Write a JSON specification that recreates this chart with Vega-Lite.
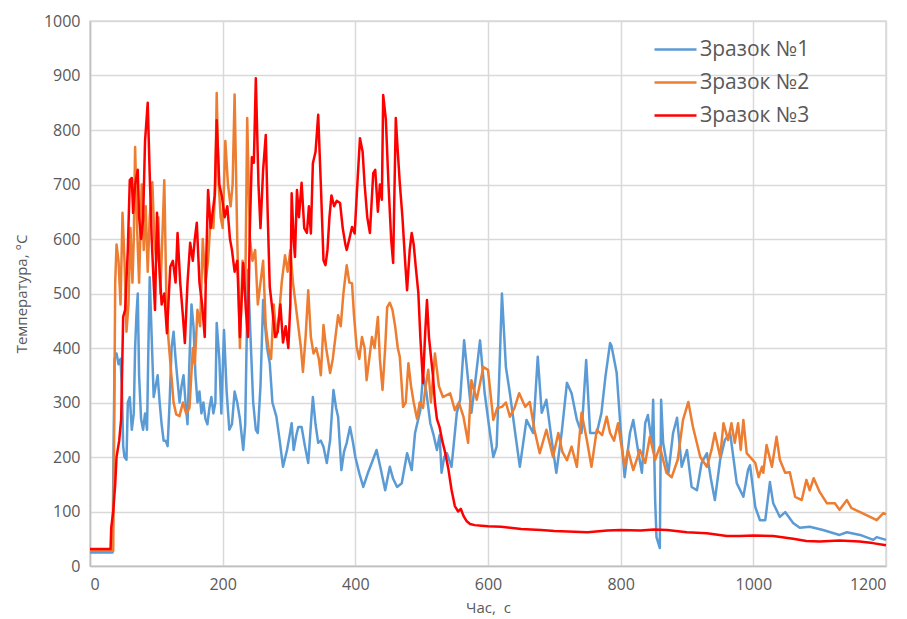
{
"$schema": "https://vega.github.io/schema/vega-lite/v6.json",
"width": 796, "height": 545,
"autosize": "none",
"padding": {"left": 90, "top": 21, "right": 21, "bottom": 53},
"background": "white",
"config": {
  "font": "Open Sans",
  "view": {"stroke": "#d9d9d9", "strokeWidth": 1.5},
  "axis": {"gridColor": "#d9d9d9", "gridWidth": 1.5, "domainColor": "#bfbfbf", "domainWidth": 1.5, "ticks": false, "labelColor": "#595959", "labelFontSize": 16, "titleColor": "#595959", "titleFontSize": 15, "titleFontWeight": "normal", "labelPadding": 10, "format": "d"}
},
"datasets": {
"s1": [{"t":0,"v":25},{"t":34,"v":25},{"t":35,"v":150},{"t":37,"v":380},{"t":40,"v":390},{"t":43,"v":370},{"t":46,"v":380},{"t":48,"v":330},{"t":50,"v":220},{"t":52,"v":200},{"t":55,"v":195},{"t":57,"v":300},{"t":60,"v":310},{"t":63,"v":250},{"t":66,"v":280},{"t":68,"v":400},{"t":70,"v":460},{"t":72,"v":500},{"t":74,"v":350},{"t":77,"v":270},{"t":80,"v":250},{"t":83,"v":280},{"t":86,"v":250},{"t":88,"v":400},{"t":90,"v":530},{"t":93,"v":420},{"t":96,"v":310},{"t":99,"v":330},{"t":102,"v":350},{"t":105,"v":300},{"t":108,"v":260},{"t":111,"v":230},{"t":114,"v":230},{"t":117,"v":220},{"t":120,"v":300},{"t":123,"v":400},{"t":126,"v":430},{"t":129,"v":380},{"t":132,"v":340},{"t":135,"v":300},{"t":138,"v":330},{"t":141,"v":350},{"t":144,"v":300},{"t":147,"v":260},{"t":150,"v":380},{"t":153,"v":480},{"t":156,"v":440},{"t":159,"v":350},{"t":162,"v":300},{"t":165,"v":320},{"t":168,"v":280},{"t":171,"v":300},{"t":174,"v":270},{"t":177,"v":260},{"t":180,"v":290},{"t":183,"v":310},{"t":186,"v":280},{"t":189,"v":300},{"t":191,"v":446},{"t":195,"v":380},{"t":198,"v":280},{"t":202,"v":433},{"t":206,"v":320},{"t":210,"v":250},{"t":214,"v":260},{"t":218,"v":320},{"t":222,"v":300},{"t":226,"v":270},{"t":231,"v":213},{"t":234,"v":260},{"t":238,"v":543},{"t":242,"v":420},{"t":246,"v":300},{"t":250,"v":250},{"t":253,"v":244},{"t":257,"v":330},{"t":261,"v":488},{"t":264,"v":440},{"t":267,"v":400},{"t":271,"v":372},{"t":275,"v":300},{"t":281,"v":274},{"t":286,"v":230},{"t":291,"v":182},{"t":297,"v":213},{"t":301,"v":240},{"t":304,"v":262},{"t":307,"v":213},{"t":311,"v":240},{"t":314,"v":255},{"t":319,"v":255},{"t":324,"v":220},{"t":329,"v":189},{"t":333,"v":260},{"t":336,"v":310},{"t":340,"v":260},{"t":344,"v":226},{"t":348,"v":230},{"t":352,"v":219},{"t":357,"v":189},{"t":362,"v":231},{"t":367,"v":323},{"t":371,"v":290},{"t":374,"v":274},{"t":379,"v":176},{"t":383,"v":210},{"t":387,"v":226},{"t":392,"v":255},{"t":396,"v":230},{"t":400,"v":200},{"t":406,"v":170},{"t":412,"v":145},{"t":419,"v":171},{"t":425,"v":190},{"t":432,"v":213},{"t":438,"v":180},{"t":445,"v":139},{"t":452,"v":182},{"t":457,"v":160},{"t":463,"v":145},{"t":470,"v":152},{"t":478,"v":207},{"t":485,"v":176},{"t":490,"v":244},{"t":498,"v":286},{"t":502,"v":350},{"t":507,"v":320},{"t":513,"v":262},{"t":518,"v":240},{"t":523,"v":213},{"t":527,"v":240},{"t":530,"v":171},{"t":534,"v":200},{"t":538,"v":207},{"t":545,"v":182},{"t":553,"v":281},{"t":558,"v":305},{"t":564,"v":414},{"t":570,"v":341},{"t":575,"v":281},{"t":580,"v":330},{"t":588,"v":414},{"t":595,"v":317},{"t":603,"v":244},{"t":608,"v":200},{"t":613,"v":219},{"t":617,"v":350},{"t":621,"v":500},{"t":627,"v":365},{"t":633,"v":317},{"t":641,"v":244},{"t":648,"v":182},{"t":658,"v":268},{"t":668,"v":244},{"t":675,"v":384},{"t":681,"v":281},{"t":688,"v":305},{"t":696,"v":231},{"t":703,"v":171},{"t":711,"v":244},{"t":719,"v":336},{"t":726,"v":317},{"t":734,"v":268},{"t":741,"v":244},{"t":748,"v":378},{"t":754,"v":244},{"t":764,"v":244},{"t":771,"v":281},{"t":777,"v":347},{"t":784,"v":409},{"t":786,"v":405},{"t":790,"v":380},{"t":794,"v":354},{"t":800,"v":250},{"t":806,"v":163},{"t":814,"v":244},{"t":819,"v":268},{"t":826,"v":213},{"t":832,"v":171},{"t":837,"v":262},{"t":841,"v":277},{"t":847,"v":226},{"t":849,"v":305},{"t":852,"v":120},{"t":854,"v":53},{"t":859,"v":33},{"t":861,"v":305},{"t":864,"v":226},{"t":872,"v":171},{"t":879,"v":244},{"t":885,"v":272},{"t":892,"v":182},{"t":900,"v":213},{"t":907,"v":145},{"t":915,"v":139},{"t":922,"v":189},{"t":930,"v":207},{"t":936,"v":160},{"t":942,"v":121},{"t":950,"v":195},{"t":957,"v":231},{"t":965,"v":244},{"t":975,"v":152},{"t":985,"v":127},{"t":992,"v":176},{"t":995,"v":185},{"t":1003,"v":108},{"t":1010,"v":84},{"t":1018,"v":84},{"t":1025,"v":154},{"t":1030,"v":115},{"t":1040,"v":90},{"t":1048,"v":99},{"t":1060,"v":79},{"t":1070,"v":70},{"t":1085,"v":72},{"t":1105,"v":66},{"t":1130,"v":57},{"t":1141,"v":62},{"t":1161,"v":57},{"t":1181,"v":48},{"t":1186,"v":53},{"t":1200,"v":48}],
"s2": [{"t":0,"v":28},{"t":35,"v":28},{"t":36,"v":180},{"t":38,"v":520},{"t":40,"v":590},{"t":43,"v":560},{"t":46,"v":480},{"t":49,"v":648},{"t":52,"v":560},{"t":55,"v":430},{"t":58,"v":480},{"t":61,"v":620},{"t":64,"v":520},{"t":66,"v":600},{"t":68,"v":769},{"t":71,"v":620},{"t":74,"v":520},{"t":78,"v":700},{"t":81,"v":580},{"t":84,"v":660},{"t":87,"v":540},{"t":90,"v":640},{"t":94,"v":704},{"t":97,"v":600},{"t":100,"v":560},{"t":103,"v":640},{"t":106,"v":500},{"t":109,"v":600},{"t":112,"v":708},{"t":115,"v":500},{"t":118,"v":420},{"t":122,"v":360},{"t":126,"v":300},{"t":130,"v":278},{"t":135,"v":275},{"t":140,"v":300},{"t":145,"v":280},{"t":150,"v":290},{"t":155,"v":400},{"t":158,"v":370},{"t":162,"v":470},{"t":166,"v":440},{"t":170,"v":600},{"t":174,"v":520},{"t":178,"v":560},{"t":182,"v":640},{"t":186,"v":620},{"t":189,"v":700},{"t":191,"v":868},{"t":194,"v":700},{"t":197,"v":640},{"t":200,"v":620},{"t":204,"v":780},{"t":208,"v":700},{"t":212,"v":660},{"t":215,"v":700},{"t":218,"v":865},{"t":222,"v":600},{"t":226,"v":400},{"t":230,"v":560},{"t":234,"v":500},{"t":237,"v":822},{"t":241,"v":600},{"t":245,"v":560},{"t":249,"v":580},{"t":253,"v":480},{"t":257,"v":520},{"t":261,"v":560},{"t":265,"v":440},{"t":269,"v":400},{"t":273,"v":380},{"t":277,"v":480},{"t":281,"v":420},{"t":285,"v":460},{"t":289,"v":520},{"t":294,"v":570},{"t":298,"v":540},{"t":302,"v":580},{"t":306,"v":520},{"t":310,"v":480},{"t":314,"v":440},{"t":318,"v":400},{"t":321,"v":356},{"t":325,"v":420},{"t":329,"v":506},{"t":333,"v":420},{"t":337,"v":390},{"t":341,"v":400},{"t":345,"v":380},{"t":348,"v":350},{"t":352,"v":442},{"t":356,"v":400},{"t":362,"v":354},{"t":366,"v":380},{"t":370,"v":420},{"t":374,"v":460},{"t":378,"v":440},{"t":382,"v":500},{"t":387,"v":552},{"t":391,"v":520},{"t":395,"v":519},{"t":398,"v":460},{"t":402,"v":402},{"t":406,"v":380},{"t":410,"v":420},{"t":414,"v":400},{"t":417,"v":341},{"t":421,"v":380},{"t":425,"v":420},{"t":429,"v":400},{"t":434,"v":457},{"t":437,"v":380},{"t":441,"v":323},{"t":445,"v":400},{"t":448,"v":475},{"t":452,"v":483},{"t":456,"v":470},{"t":460,"v":440},{"t":464,"v":400},{"t":467,"v":384},{"t":470,"v":330},{"t":472,"v":292},{"t":476,"v":300},{"t":480,"v":372},{"t":484,"v":330},{"t":488,"v":300},{"t":493,"v":270},{"t":497,"v":300},{"t":502,"v":290},{"t":506,"v":330},{"t":510,"v":360},{"t":514,"v":300},{"t":520,"v":390},{"t":526,"v":330},{"t":532,"v":310},{"t":543,"v":317},{"t":550,"v":286},{"t":556,"v":300},{"t":563,"v":274},{"t":570,"v":226},{"t":575,"v":341},{"t":583,"v":305},{"t":593,"v":365},{"t":600,"v":360},{"t":608,"v":268},{"t":614,"v":290},{"t":621,"v":292},{"t":627,"v":300},{"t":633,"v":274},{"t":640,"v":290},{"t":647,"v":317},{"t":656,"v":292},{"t":663,"v":301},{"t":670,"v":250},{"t":678,"v":207},{"t":688,"v":250},{"t":698,"v":200},{"t":706,"v":244},{"t":712,"v":210},{"t":719,"v":194},{"t":726,"v":219},{"t":734,"v":182},{"t":741,"v":281},{"t":749,"v":231},{"t":756,"v":182},{"t":764,"v":250},{"t":772,"v":240},{"t":779,"v":274},{"t":784,"v":244},{"t":790,"v":230},{"t":796,"v":262},{"t":806,"v":182},{"t":811,"v":213},{"t":819,"v":176},{"t":829,"v":213},{"t":837,"v":189},{"t":844,"v":237},{"t":852,"v":195},{"t":859,"v":219},{"t":869,"v":171},{"t":877,"v":163},{"t":886,"v":195},{"t":894,"v":268},{"t":902,"v":301},{"t":909,"v":255},{"t":920,"v":200},{"t":930,"v":182},{"t":937,"v":213},{"t":942,"v":244},{"t":950,"v":200},{"t":955,"v":262},{"t":962,"v":231},{"t":967,"v":262},{"t":972,"v":226},{"t":977,"v":262},{"t":981,"v":213},{"t":985,"v":268},{"t":990,"v":207},{"t":1003,"v":189},{"t":1008,"v":163},{"t":1013,"v":182},{"t":1015,"v":171},{"t":1020,"v":222},{"t":1028,"v":182},{"t":1035,"v":237},{"t":1040,"v":195},{"t":1048,"v":171},{"t":1055,"v":172},{"t":1063,"v":127},{"t":1073,"v":121},{"t":1080,"v":158},{"t":1085,"v":139},{"t":1091,"v":161},{"t":1100,"v":136},{"t":1111,"v":115},{"t":1123,"v":115},{"t":1130,"v":103},{"t":1141,"v":121},{"t":1148,"v":106},{"t":1161,"v":99},{"t":1176,"v":90},{"t":1186,"v":84},{"t":1196,"v":97},{"t":1200,"v":95}],
"s3": [{"t":0,"v":31},{"t":31,"v":31},{"t":32,"v":70},{"t":35,"v":100},{"t":38,"v":150},{"t":40,"v":200},{"t":44,"v":230},{"t":47,"v":270},{"t":50,"v":457},{"t":53,"v":470},{"t":57,"v":580},{"t":60,"v":708},{"t":63,"v":712},{"t":65,"v":648},{"t":68,"v":700},{"t":72,"v":727},{"t":74,"v":640},{"t":77,"v":600},{"t":80,"v":635},{"t":83,"v":780},{"t":87,"v":850},{"t":90,"v":720},{"t":93,"v":600},{"t":96,"v":520},{"t":98,"v":470},{"t":101,"v":648},{"t":104,"v":560},{"t":108,"v":480},{"t":112,"v":500},{"t":116,"v":427},{"t":121,"v":549},{"t":125,"v":560},{"t":129,"v":520},{"t":132,"v":611},{"t":136,"v":520},{"t":140,"v":460},{"t":143,"v":409},{"t":147,"v":520},{"t":151,"v":593},{"t":155,"v":560},{"t":158,"v":600},{"t":161,"v":630},{"t":165,"v":520},{"t":169,"v":480},{"t":173,"v":420},{"t":175,"v":550},{"t":178,"v":690},{"t":182,"v":620},{"t":186,"v":660},{"t":188,"v":680},{"t":191,"v":818},{"t":195,"v":700},{"t":199,"v":677},{"t":203,"v":640},{"t":207,"v":660},{"t":211,"v":600},{"t":214,"v":580},{"t":218,"v":540},{"t":222,"v":560},{"t":226,"v":420},{"t":229,"v":500},{"t":231,"v":556},{"t":235,"v":470},{"t":238,"v":420},{"t":241,"v":620},{"t":244,"v":750},{"t":247,"v":740},{"t":250,"v":895},{"t":254,"v":700},{"t":257,"v":620},{"t":261,"v":727},{"t":265,"v":791},{"t":268,"v":640},{"t":271,"v":512},{"t":275,"v":470},{"t":279,"v":420},{"t":283,"v":430},{"t":287,"v":480},{"t":291,"v":410},{"t":295,"v":440},{"t":299,"v":400},{"t":302,"v":480},{"t":304,"v":684},{"t":307,"v":600},{"t":309,"v":567},{"t":312,"v":690},{"t":315,"v":640},{"t":319,"v":703},{"t":323,"v":620},{"t":327,"v":611},{"t":330,"v":660},{"t":333,"v":610},{"t":336,"v":739},{"t":340,"v":760},{"t":344,"v":828},{"t":348,"v":700},{"t":352,"v":561},{"t":355,"v":552},{"t":358,"v":580},{"t":361,"v":640},{"t":364,"v":680},{"t":368,"v":660},{"t":372,"v":670},{"t":377,"v":666},{"t":381,"v":620},{"t":385,"v":590},{"t":387,"v":580},{"t":391,"v":600},{"t":395,"v":622},{"t":399,"v":610},{"t":403,"v":700},{"t":407,"v":785},{"t":411,"v":760},{"t":414,"v":700},{"t":418,"v":640},{"t":422,"v":611},{"t":427,"v":721},{"t":430,"v":727},{"t":434,"v":650},{"t":437,"v":700},{"t":440,"v":672},{"t":442,"v":864},{"t":446,"v":820},{"t":450,"v":700},{"t":454,"v":600},{"t":457,"v":556},{"t":461,"v":822},{"t":464,"v":760},{"t":467,"v":703},{"t":471,"v":640},{"t":475,"v":560},{"t":478,"v":506},{"t":482,"v":580},{"t":485,"v":611},{"t":488,"v":590},{"t":491,"v":550},{"t":495,"v":501},{"t":498,"v":420},{"t":502,"v":336},{"t":505,"v":420},{"t":508,"v":488},{"t":511,"v":420},{"t":514,"v":384},{"t":517,"v":350},{"t":520,"v":300},{"t":523,"v":270},{"t":527,"v":255},{"t":531,"v":230},{"t":535,"v":210},{"t":540,"v":180},{"t":545,"v":140},{"t":550,"v":110},{"t":555,"v":100},{"t":559,"v":105},{"t":563,"v":92},{"t":568,"v":82},{"t":573,"v":77},{"t":580,"v":75},{"t":590,"v":74},{"t":600,"v":73},{"t":620,"v":72},{"t":650,"v":68},{"t":680,"v":66},{"t":700,"v":64},{"t":730,"v":63},{"t":750,"v":62},{"t":780,"v":65},{"t":800,"v":66},{"t":830,"v":65},{"t":850,"v":67},{"t":870,"v":66},{"t":900,"v":62},{"t":930,"v":60},{"t":960,"v":55},{"t":980,"v":55},{"t":1000,"v":56},{"t":1030,"v":55},{"t":1060,"v":50},{"t":1080,"v":46},{"t":1100,"v":45},{"t":1130,"v":47},{"t":1160,"v":45},{"t":1180,"v":42},{"t":1200,"v":38}]
},
"encoding": {
  "x": {"field": "t", "type": "quantitative", "scale": {"domain": [0, 1200], "nice": false}, "axis": {"values": [0, 200, 400, 600, 800, 1000, 1200], "title": "Час,\u00a0\u00a0с", "titlePadding": 8}},
  "y": {"field": "v", "type": "quantitative", "scale": {"domain": [0, 1000], "nice": false}, "axis": {"values": [0, 100, 200, 300, 400, 500, 600, 700, 800, 900, 1000], "title": "Температура, °С", "titlePadding": 14}}
},
"layer": [
  {"data": {"name": "s1"}, "mark": {"type": "line", "strokeWidth": 2.5, "strokeJoin": "round"},
   "encoding": {"color": {"datum": "Зразок №1", "type": "nominal",
     "scale": {"domain": ["Зразок №1", "Зразок №2", "Зразок №3"], "range": ["#5B9BD5", "#ED7D31", "#FF0000"]},
     "legend": {"title": null, "orient": "none", "legendX": 563, "legendY": 6, "symbolType": "stroke", "symbolSize": 1764, "symbolStrokeWidth": 2.5, "labelFontSize": 21, "labelColor": "#595959", "rowPadding": -1, "labelOffset": 2}}}},
  {"data": {"name": "s2"}, "mark": {"type": "line", "strokeWidth": 2.5, "strokeJoin": "round"},
   "encoding": {"color": {"datum": "Зразок №2", "type": "nominal"}}},
  {"data": {"name": "s3"}, "mark": {"type": "line", "strokeWidth": 2.5, "strokeJoin": "round"},
   "encoding": {"color": {"datum": "Зразок №3", "type": "nominal"}}}
]
}
